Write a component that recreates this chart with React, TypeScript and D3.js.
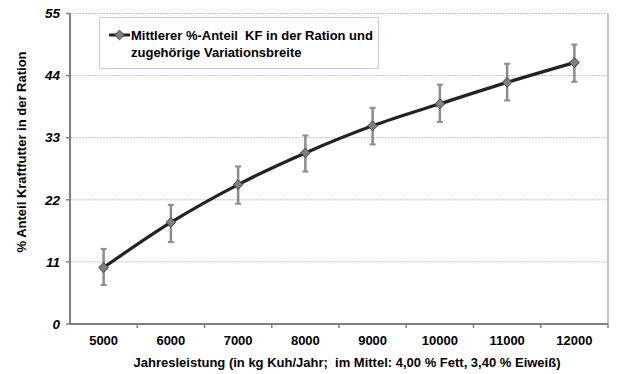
import React from 'react'
import * as d3 from 'd3'

const years = ['5000', '6000', '7000', '8000', '9000', '10000', '11000', '12000']
const means = [10, 18, 24.7, 30.3, 35.1, 39, 42.8, 46.3]
const upper = [13.3, 21.1, 27.9, 33.4, 38.3, 42.4, 46.1, 49.5]
const lower = [6.9, 14.5, 21.3, 27, 31.8, 35.8, 39.6, 42.9]
const yTicks = [0, 11, 22, 33, 44, 55]

const width = 630
const height = 374
const margin = { top: 13.5, right: 22, bottom: 50, left: 70 }
const font = 'Arial, "Liberation Sans", sans-serif'

export default function App() {
  const plotW = width - margin.left - margin.right
  const plotH = height - margin.top - margin.bottom

  const xScale = d3.scaleBand().domain(years).range([0, plotW])
  const yScale = d3.scaleLinear().domain([0, 55]).range([plotH, 0])
  const cx = (d: string) => (xScale(d) as number) + xScale.bandwidth() / 2

  const line = d3.line<number>()
    .x((d, i) => cx(years[i]))
    .y(d => yScale(d))
    .curve(d3.curveCatmullRom.alpha(0.5))

  const diamond = d3.symbol().type(d3.symbolDiamond2).size(60)()

  return (
    <svg width={width} height={height} style={{ position: 'absolute', left: 0, top: 0, background: '#fff' }}
      fontFamily={font}>
      <g transform={`translate(${margin.left},${margin.top})`}>
        {/* grid */}
        {yTicks.filter(t => t > 0).map(t =>
          <line key={t} x1={0} x2={plotW} y1={yScale(t)} y2={yScale(t)}
            stroke='#c4c4c4' strokeWidth={1} strokeDasharray='2,1' />
        )}
        <line x1={plotW} x2={plotW} y1={0} y2={plotH} stroke='#a0a0a0' strokeWidth={1.2} />

        {/* axes */}
        <line x1={0} x2={0} y1={0} y2={plotH} stroke='#808080' strokeWidth={2} />
        <line x1={0} x2={plotW} y1={plotH} y2={plotH} stroke='#808080' strokeWidth={2} />
        {yTicks.map(t =>
          <g key={t}>
            <line x1={-4} x2={0} y1={yScale(t)} y2={yScale(t)} stroke='#808080' strokeWidth={1.5} />
            <text x={-10} y={yScale(t)} dy='0.35em' textAnchor='end' fontSize={13.5}
              fontWeight='bold' fontStyle='italic'>{t}</text>
          </g>
        )}
        {years.map(y =>
          <line key={'t' + y} x1={(xScale(y) as number) + xScale.bandwidth()} x2={(xScale(y) as number) + xScale.bandwidth()}
            y1={plotH} y2={plotH + 4} stroke='#808080' strokeWidth={1.5} />
        )}
        {years.map(y =>
          <text key={'l' + y} x={cx(y)} y={plotH + 21} textAnchor='middle' fontSize={13} fontWeight='bold'>{y}</text>
        )}

        {/* error bars */}
        {years.map((y, i) =>
          <g key={'e' + y} stroke='#8c8c8c' strokeWidth={2.5}>
            <line x1={cx(y)} x2={cx(y)} y1={yScale(upper[i])} y2={yScale(lower[i])} />
            <line x1={cx(y) - 3} x2={cx(y) + 3} y1={yScale(upper[i])} y2={yScale(upper[i])} strokeWidth={2} />
            <line x1={cx(y) - 3} x2={cx(y) + 3} y1={yScale(lower[i])} y2={yScale(lower[i])} strokeWidth={2} />
          </g>
        )}

        <path d={line(means) as string} fill='none' stroke='#222' strokeWidth={3.2} />
        {means.map((m, i) =>
          <path key={'m' + i} d={diamond as string} transform={`translate(${cx(years[i])},${yScale(m)})`}
            fill='#808080' stroke='#404040' strokeWidth={1} />
        )}
      </g>

      {/* legend */}
      <rect x={99.5} y={17.5} width={279} height={51} fill='#fff' stroke='#c8c8f4' strokeWidth={1} />
      <line x1={109} x2={130} y1={35} y2={35} stroke='#222' strokeWidth={3} />
      <path d={diamond as string} transform='translate(119.5,35)' fill='#808080' stroke='#404040' strokeWidth={1} />
      <text x={131} y={40} fontSize={13} fontWeight='bold' style={{ whiteSpace: 'pre' }}>
        {'Mittlerer %-Anteil  KF in der Ration und'}
      </text>
      <text x={131} y={57} fontSize={13} fontWeight='bold'>zugehörige Variationsbreite</text>

      {/* titles */}
      <text transform='translate(26,152) rotate(-90)' textAnchor='middle' fontSize={13} fontWeight='bold'>
        % Anteil Kraftfutter in der Ration
      </text>
      <text x={347} y={367} textAnchor='middle' fontSize={13} fontWeight='bold' style={{ whiteSpace: 'pre' }}>
        {'Jahresleistung (in kg Kuh/Jahr;  im Mittel: 4,00 % Fett, 3,40 % Eiweiß)'}
      </text>
    </svg>
  )
}
